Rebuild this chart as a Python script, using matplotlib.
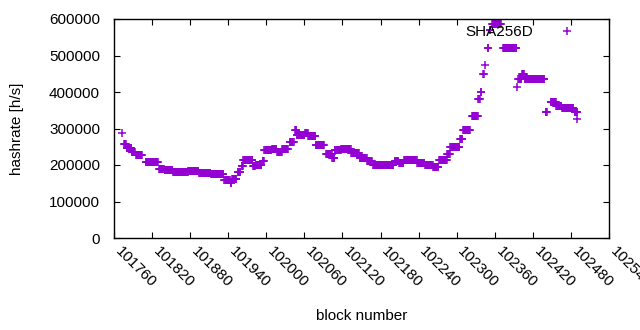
import matplotlib
matplotlib.use("Agg")
import matplotlib.pyplot as plt
import matplotlib.transforms as mtransforms
import numpy as np

plt.rcParams['font.family'] = ['Liberation Sans', 'DejaVu Sans']

# plateaus of hashrate: first block, last block, value [h/s]
seg_start = [101773, 101776, 101780, 101788, 101795, 101810, 101831, 101840, 101853, 101877,
             101894, 101913, 101934, 101944, 101946, 101955, 101961, 101964, 101979, 101983,
             101994, 101997, 102009, 102017, 102025, 102037, 102045, 102048, 102061, 102066,
             102078, 102094, 102104, 102108, 102118, 102134, 102147, 102159, 102168, 102202,
             102209, 102217, 102238, 102250, 102263, 102272, 102285, 102290, 102305, 102310,
             102324, 102334, 102338, 102342, 102345, 102349, 102352, 102356, 102373, 102395,
             102397, 102403, 102407, 102440, 102448, 102457, 102466, 102486, 102489]
seg_end = [101773, 101779, 101787, 101793, 101804, 101829, 101838, 101852, 101876, 101893,
           101912, 101932, 101942, 101945, 101953, 101959, 101963, 101978, 101982, 101992,
           101996, 102008, 102016, 102024, 102034, 102043, 102047, 102060, 102065, 102077,
           102091, 102103, 102107, 102117, 102133, 102146, 102158, 102166, 102200, 102208,
           102216, 102237, 102249, 102262, 102271, 102284, 102289, 102304, 102309, 102321,
           102333, 102336, 102339, 102343, 102345, 102350, 102353, 102370, 102394, 102395,
           102402, 102406, 102438, 102442, 102456, 102465, 102484, 102490, 102489]
seg_value = [287000, 258000, 247000, 236000, 227000, 207000, 190000, 186000, 180000, 184000,
             178000, 174000, 160000, 150000, 162000, 180000, 197000, 215000, 198000, 200000,
             210000, 240000, 245000, 235000, 245000, 262000, 295000, 282000, 287000, 280000,
             255000, 230000, 220000, 240000, 245000, 232000, 220000, 210000, 200000, 210000,
             205000, 215000, 205000, 200000, 195000, 215000, 230000, 250000, 270000, 297000,
             335000, 380000, 400000, 450000, 475000, 520000, 570000, 585000, 520000, 415000,
             435000, 450000, 435000, 345000, 372000, 362000, 355000, 345000, 327000]

blocks = np.concatenate([np.arange(s, e + 1) for s, e in zip(seg_start, seg_end)])
rates = np.concatenate([np.full(e - s + 1, v) for s, e, v in zip(seg_start, seg_end, seg_value)])

x_ticks = list(range(101760, 102541, 60))
y_ticks = list(range(0, 600001, 100000))

fig = plt.figure(figsize=(6.4, 3.3), dpi=100)
ax = fig.add_axes([114 / 640, 92 / 330, 495 / 640, 219 / 330])

ax.plot(blocks, rates, linestyle='none', marker='+', markersize=6,
        markeredgewidth=1.1, color='#9400d3', label='SHA256D')

ax.set_xlim(101760, 102540)
ax.set_ylim(0, 600000)
ax.set_xticks(x_ticks)
ax.set_yticks(y_ticks)
ax.set_xticklabels([str(t) for t in x_ticks], rotation=-45, ha='left', va='center',
                   rotation_mode='anchor')
ax.tick_params(direction='in', top=True, right=True, length=4, width=0.8, labelsize=11)
ax.tick_params(axis='y', pad=10)
ax.tick_params(axis='x', pad=8)
# nudge the rotated block labels a little to the right of their ticks
shift = mtransforms.ScaledTranslation(2.5 / 72, 0, fig.dpi_scale_trans)
for lab in ax.get_xticklabels():
    lab.set_transform(lab.get_transform() + shift)
for sp in ax.spines.values():
    sp.set_linewidth(1.0)

ax.set_xlabel('block number', fontsize=11)
ax.xaxis.set_label_coords(0.5, (238 - 316) / 219)
ax.xaxis.label.set_va('center')
ax.set_ylabel('hashrate [h/s]', fontsize=11)
ax.yaxis.set_label_coords((17 - 114) / 495, 0.5)
ax.yaxis.label.set_va('center')

ax.legend(loc='center right', bbox_to_anchor=((584 - 114) / 495, (238 - 32) / 219),
          frameon=False, markerfirst=False, handlelength=2.2, handletextpad=1.1,
          borderpad=0, borderaxespad=0, fontsize=11)

fig.savefig('out.png', dpi=100)
